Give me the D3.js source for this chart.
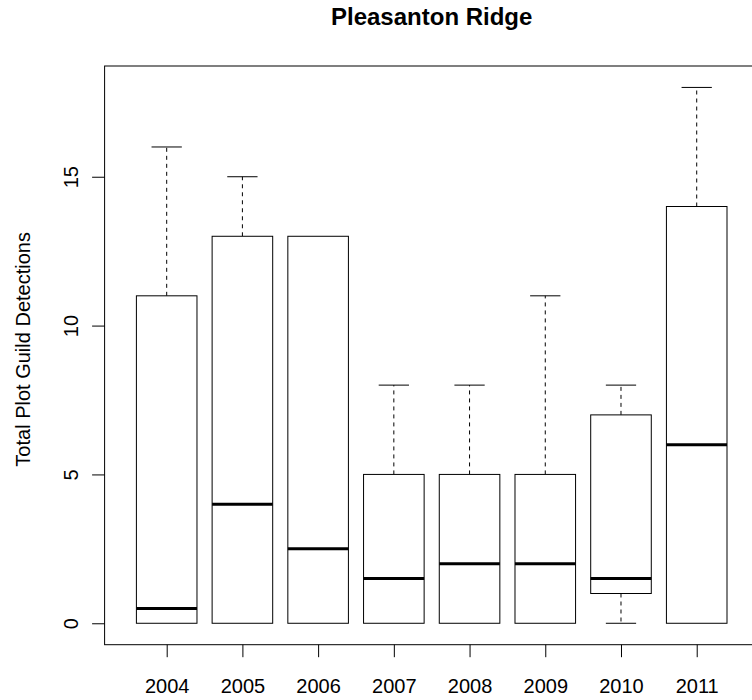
<!DOCTYPE html>
<html>
<head>
<meta charset="utf-8">
<script src="https://cdn.jsdelivr.net/npm/d3@7"></script>
<style>
  html, body { margin: 0; padding: 0; background: #fff; overflow: hidden; }
  svg { display: block; font-family: 'Liberation Sans', Arial, sans-serif; }
</style>
</head>
<body>
<div id="chart"></div>
<script>
// box summary per year (min, q1, median, q3, max)
const years = ['2004', '2005', '2006', '2007', '2008', '2009', '2010', '2011'];
const mins = [0, 0, 0, 0, 0, 0, 0, 0];
const lowerQ = [0, 0, 0, 0, 0, 0, 1, 0];
const medians = [0.5, 4, 2.5, 1.5, 2, 2, 1.5, 6];
const upperQ = [11, 13, 13, 5, 5, 5, 7, 14];
const maxs = [16, 15, 13, 8, 8, 11, 8, 18];
const yTicks = [0, 5, 10, 15];

const makePlot = () => {
  const container = d3.select('#chart');
  container.selectAll('*').remove();

  const size = { width: 752, height: 700 };

  // plot region - the right edge runs past the window, like the original
  const plot = {
    left: 104.6, right: 758.8, top: 66, bottom: 644.7,
  };

  const svg = container
    .append('svg')
    .attr('width', size.width)
    .attr('height', size.height);

  const boxes = years.map((y, i) => ({
    year: y,
    pos: i + 1,
    min: mins[i],
    q1: lowerQ[i],
    med: medians[i],
    q3: upperQ[i],
    max: maxs[i],
  }));

  /**
   * Scales
   */
  const x = d3.scaleLinear()
    .domain([0.18, years.length + 0.82])
    .range([plot.left, plot.right]);

  const y = d3.scaleLinear()
    .domain([-0.72, 18.72])
    .range([plot.bottom, plot.top]);

  const boxW = (x(2) - x(1)) * 0.8;

  /**
   * Boxes
   */
  const g = svg.append('g');

  const box = g.selectAll('g.box')
    .data(boxes)
    .enter()
    .append('g')
    .attr('class', 'box');

  // whiskers (dashed)
  box.filter((d) => d.max > d.q3)
    .append('line')
    .attr('x1', (d) => x(d.pos))
    .attr('x2', (d) => x(d.pos))
    .attr('y1', (d) => y(d.q3))
    .attr('y2', (d) => y(d.max))
    .style('stroke', '#000')
    .style('stroke-dasharray', '4, 4');

  box.filter((d) => d.min < d.q1)
    .append('line')
    .attr('x1', (d) => x(d.pos))
    .attr('x2', (d) => x(d.pos))
    .attr('y1', (d) => y(d.q1))
    .attr('y2', (d) => y(d.min))
    .style('stroke', '#000')
    .style('stroke-dasharray', '4, 4');

  // staples
  box.filter((d) => d.max > d.q3)
    .append('line')
    .attr('x1', (d) => x(d.pos) - boxW / 4)
    .attr('x2', (d) => x(d.pos) + boxW / 4)
    .attr('y1', (d) => y(d.max))
    .attr('y2', (d) => y(d.max))
    .style('stroke', '#000');

  box.filter((d) => d.min < d.q1)
    .append('line')
    .attr('x1', (d) => x(d.pos) - boxW / 4)
    .attr('x2', (d) => x(d.pos) + boxW / 4)
    .attr('y1', (d) => y(d.min))
    .attr('y2', (d) => y(d.min))
    .style('stroke', '#000');

  box.append('rect')
    .attr('x', (d) => x(d.pos) - boxW / 2)
    .attr('width', boxW)
    .attr('y', (d) => y(d.q3))
    .attr('height', (d) => y(d.q1) - y(d.q3))
    .style('fill', '#fff')
    .style('stroke', '#000');

  box.append('line')
    .attr('x1', (d) => x(d.pos) - boxW / 2)
    .attr('x2', (d) => x(d.pos) + boxW / 2)
    .attr('y1', (d) => y(d.med))
    .attr('y2', (d) => y(d.med))
    .style('stroke', '#000')
    .style('stroke-width', 3);

  /**
   * Frame and axes
   */
  svg.append('rect')
    .attr('x', plot.left)
    .attr('y', plot.top)
    .attr('width', plot.right - plot.left)
    .attr('height', plot.bottom - plot.top)
    .style('fill', 'none')
    .style('stroke', '#000');

  const xAxis = d3.axisBottom(x)
    .tickValues(boxes.map((d) => d.pos))
    .tickFormat((d) => years[d - 1])
    .tickSize(12.5)
    .tickPadding(22);

  const xg = svg.append('g')
    .attr('transform', `translate(0,${plot.bottom})`)
    .call(xAxis);
  xg.select('.domain').remove();
  xg.selectAll('text')
    .style('font-size', '20px')
    .style('font-family', "'Liberation Sans', Arial, sans-serif")
    .attr('fill', '#000');

  const yAxis = d3.axisLeft(y)
    .tickValues(yTicks)
    .tickSize(12.5);

  const yg = svg.append('g')
    .attr('transform', `translate(${plot.left},0)`)
    .call(yAxis);
  yg.select('.domain').remove();
  // rotated tick labels, like R's default las = 0
  // (each tick group is already moved to its y position)
  yg.selectAll('text')
    .attr('x', null)
    .attr('y', null)
    .attr('dy', null)
    .attr('text-anchor', 'middle')
    .attr('transform', 'translate(-26.5,0) rotate(-90)')
    .style('font-size', '20px')
    .style('font-family', "'Liberation Sans', Arial, sans-serif")
    .attr('fill', '#000');

  svg.selectAll('.tick line').style('stroke', '#000');

  /**
   * Titles
   */
  svg.append('text')
    .text('Pleasanton Ridge')
    .attr('x', (plot.left + plot.right) / 2)
    .attr('y', 25)
    .attr('text-anchor', 'middle')
    .style('font-size', '24px')
    .style('font-weight', 'bold');

  svg.append('text')
    .text('Total Plot Guild Detections')
    .attr('text-anchor', 'middle')
    .attr('transform', `translate(29.5,${(plot.top + plot.bottom) / 2 - 6}) rotate(-90)`)
    .style('font-size', '20px');
};

makePlot();
</script>
</body>
</html>
